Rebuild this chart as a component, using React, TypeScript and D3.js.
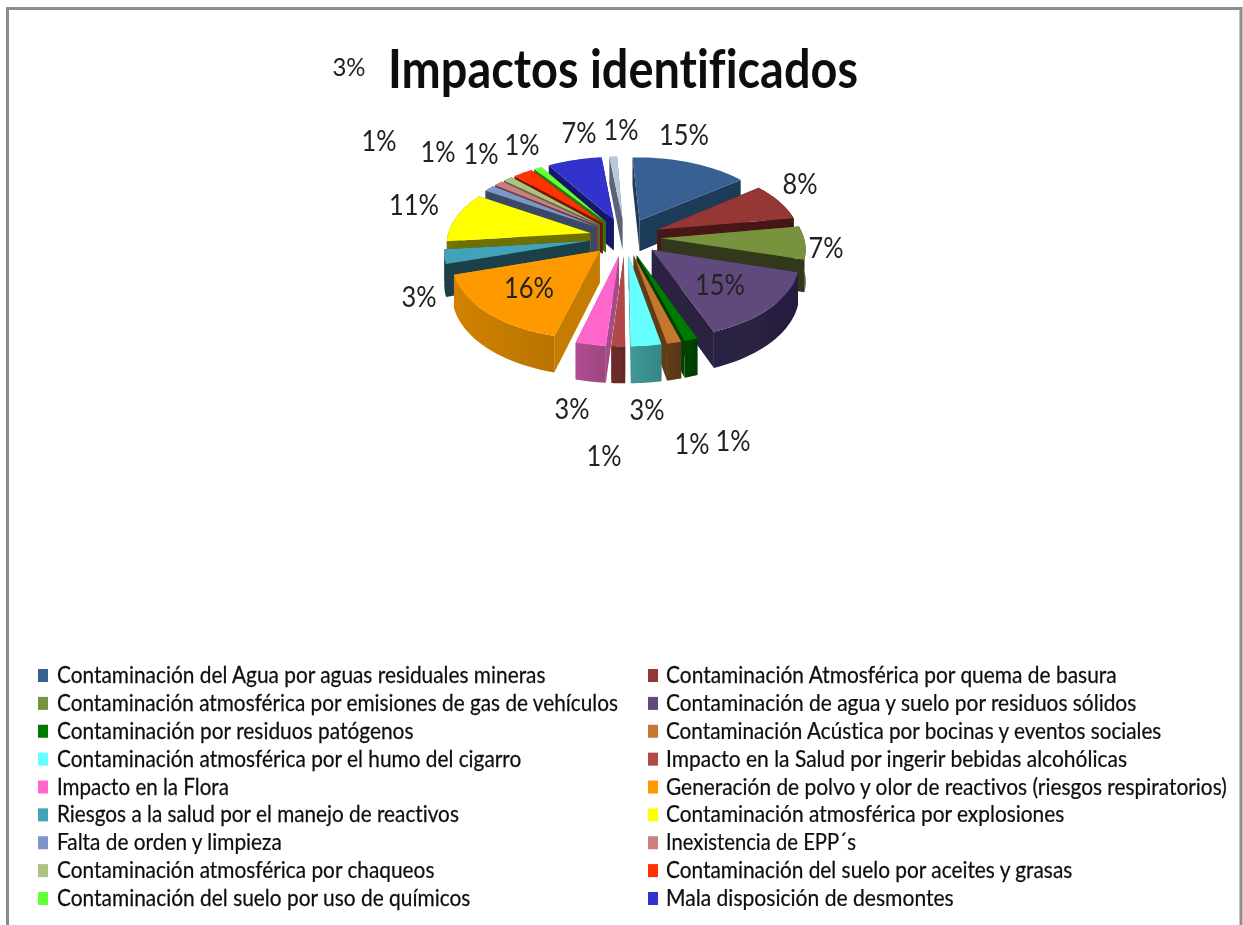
import * as React from 'react';
import * as d3 from 'd3';

const W = 1243;
const H = 925;

// slice values in order, clockwise from 12 o'clock
const impactValues = [15, 8, 7, 14.6, 1.3, 1.4, 2.9, 1.3, 2.9, 16, 3, 10.6, 1.4, 1.2, 1.2, 2.5, 1, 7, 1];
const impactLabels = ['15%', '8%', '7%', '15%', '1%', '1%', '3%', '1%', '3%', '16%', '3%', '11%', '1%', '1%', '1%', '3%', '1%', '7%', '1%'];
const sliceColors = ['#376092', '#953735', '#77933c', '#604a7b', '#007a00', '#c6762f', '#66ffff', '#b24a4a', '#ff66cc', '#ff9900', '#43a2b8', '#ffff00', '#7d98c8', '#cc7f7f', '#adc381', '#ff3300', '#66ff33', '#3333cc', '#b7c7e0'];
const wallColors = ['#1f3a58', '#461616', '#32381c', '#2a2040', '#004000', '#5e3a18', '#3a9090', '#6a2a2a', '#a84a8a', '#c67c00', '#1a4048', '#707000', '#3a4a66', '#6a4040', '#5a6a40', '#7a1800', '#2a7a10', '#14146a', '#5a6478'];

const legendLeft = [
  'Contaminación del Agua por aguas residuales mineras',
  'Contaminación atmosférica por emisiones de gas de vehículos',
  'Contaminación por residuos patógenos',
  'Contaminación atmosférica por el humo del cigarro',
  'Impacto en la Flora',
  'Riesgos a la salud por el manejo de reactivos',
  'Falta de orden y limpieza',
  'Contaminación atmosférica por chaqueos',
  'Contaminación del suelo por uso de químicos',
];
const legendRight = [
  'Contaminación Atmosférica por quema de basura',
  'Contaminación de agua y suelo por residuos sólidos',
  'Contaminación Acústica por bocinas y eventos sociales',
  'Impacto en la Salud por ingerir bebidas alcohólicas',
  'Generación de polvo y olor de reactivos (riesgos respiratorios)',
  'Contaminación atmosférica por explosiones',
  'Inexistencia de EPP´s',
  'Contaminación del suelo por aceites y grasas',
  'Mala disposición de desmontes',
];
const legendLeftColors = ['#376092', '#77933c', '#007a00', '#66ffff', '#ff66cc', '#43a2b8', '#7d98c8', '#adc381', '#66ff33'];
const legendRightColors = ['#953735', '#604a7b', '#c6762f', '#b24a4a', '#ff9900', '#ffff00', '#cc7f7f', '#ff3300', '#3333cc'];
const legendLeftWidths = [490, 562, 357, 465, 172, 403, 226, 378, 414];
const legendRightWidths = [452, 472, 498, 462, 563, 399, 190, 408, 288];

// label anchor points
const labelX = [684, 800, 826, 720, 733, 692, 647, 604, 572, 529, 419, 414, 379, 438, 481, 349, 522, 579, 621];
const labelY = [145, 194, 258, 295, 451, 454, 420, 466, 419, 298, 307, 215, 151, 162, 164, 76, 155, 143, 140];

const cx = 625;
const cy = 237;
const R = 143;
const persp = 0.12; // perspective strength
const tilt = 0.52;
const explode = 0.25;
const depth = 0.22;
const rotation = -0.044;

function project(wx: number, wy: number, lift = 0) {
  const s = R / (1 + persp * wy);
  return [cx + wx * s, cy - wy * tilt * s + lift * s] as [number, number];
}

// squeeze a string horizontally to the width it has in the picture
const measure = document.createElement('canvas').getContext('2d')!;
function squeeze(t: string, font: string, width: number) {
  measure.font = font;
  return width / measure.measureText(t).width;
}

function LegendRow({ t, x, y, width, color, swatchX }: any) {
  const sx = squeeze(t, "23px Lato", width);
  return (
    <g>
      <rect x={swatchX} y={y - 7} width={10} height={13} fill={color} />
      <text transform={`translate(${x},${y + 7}) scale(${sx},1)`} fontSize={23} stroke="#111" strokeWidth={0.25}>{t}</text>
    </g>
  );
}

function App() {
  const pie = d3.pie<number>().sort(null).value((d) => d).startAngle(rotation).endAngle(rotation + 2 * Math.PI);
  const arcs = pie(impactValues);
  const line = d3.line();

  const slices = arcs.map((a, i) => {
    const mid = (a.startAngle + a.endAngle) / 2;
    const ox = explode * Math.sin(mid);
    const oy = explode * Math.cos(mid);
    const angles = d3.range(0, 25).map((k) => a.startAngle + ((a.endAngle - a.startAngle) * k) / 24);
    const rim = angles.map((t) => [ox + Math.sin(t), oy + Math.cos(t)]);
    const rimTop = rim.map((p) => project(p[0], p[1]));
    const rimBot = rim.map((p) => project(p[0], p[1], depth));
    const apexTop = project(ox, oy);
    const apexBot = project(ox, oy, depth);
    const top = line([apexTop, ...rimTop])! + 'Z';
    const outer = line([...rimTop, ...rimBot.slice().reverse()])! + 'Z';
    const sideA = line([apexTop, rimTop[0], rimBot[0], apexBot])! + 'Z';
    const sideB = line([apexTop, rimTop[24], rimBot[24], apexBot])! + 'Z';
    const xs = rimTop.map((p) => p[0]);
    return { i, mid, oy, top, outer, sideA, sideB, x0: d3.min(xs)!, x1: d3.max(xs)! };
  });
  // painter's order, far slices first
  const ordered = slices.slice().sort((p, q) => Math.cos(q.mid) - Math.cos(p.mid));

  const rowY = d3.scaleLinear().domain([0, 8]).range([676, 899]);

  return (
    <svg width={W} height={H} style={{ position: 'absolute', left: 0, top: 0, background: '#fff' }}>
      <defs>
        <filter id="soft" x="-5%" y="-5%" width="110%" height="110%">
          <feGaussianBlur stdDeviation="0.55" />
        </filter>
        {slices.map((s) => (
          <linearGradient key={s.i} id={'wall' + s.i} gradientUnits="userSpaceOnUse" x1={s.x0} x2={s.x1} y1={0} y2={0}>
            <stop offset="0" stopColor={d3.color(wallColors[s.i])!.brighter(0.15).formatHex()} />
            <stop offset="1" stopColor={d3.color(wallColors[s.i])!.darker(0.2).formatHex()} />
          </linearGradient>
        ))}
      </defs>

      {/* frame */}
      <path d={`M7.5 ${H} V8.5 H1241 V${H}`} fill="none" stroke="#8c8c8c" strokeWidth={3} />

      <g filter="url(#soft)">
        {ordered.map((s) => (
          <g key={s.i}>
            <path d={s.sideA} fill={wallColors[s.i]} />
            <path d={s.sideB} fill={wallColors[s.i]} />
            {Math.cos(s.mid) < 0.75 && <path d={s.outer} fill={`url(#wall${s.i})`} />}
            <path d={s.top} fill={sliceColors[s.i]} />
          </g>
        ))}
      </g>

      <g filter="url(#soft)" fontFamily="Lato, 'Open Sans', sans-serif" fill="#111" style={{ fontVariantLigatures: 'none' }}>
        <text x={388} y={88} fontSize={54} fontWeight={700} textLength={470} lengthAdjust="spacingAndGlyphs">
          Impactos identificados
        </text>
        {impactLabels.map((t, i) => (
          <text
            key={i}
            x={labelX[i]}
            y={labelY[i]}
            fontSize={i === 15 ? 25 : 29}
            textAnchor="middle"
            fill="#222"
            textLength={i === 15 ? 33 : t.length === 3 ? 50 : 35}
            lengthAdjust="spacingAndGlyphs"
          >
            {t}
          </text>
        ))}
        {legendLeft.map((t, i) => (
          <LegendRow key={t} t={t} x={57} y={rowY(i)} width={legendLeftWidths[i]} color={legendLeftColors[i]} swatchX={38} />
        ))}
        {legendRight.map((t, i) => (
          <LegendRow key={t} t={t} x={666} y={rowY(i)} width={legendRightWidths[i]} color={legendRightColors[i]} swatchX={648} />
        ))}
      </g>
    </svg>
  );
}

export default App;
